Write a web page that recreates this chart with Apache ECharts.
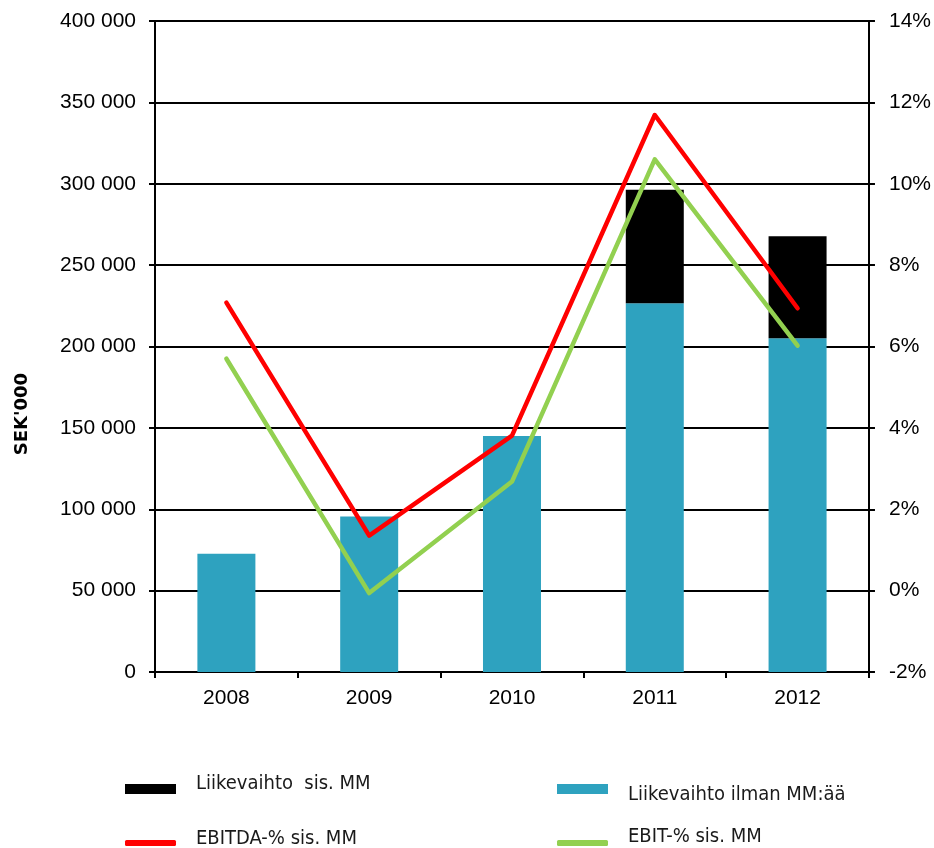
<!DOCTYPE html>
<html><head><meta charset="utf-8">
<script src="https://cdn.jsdelivr.net/npm/echarts@6/dist/echarts.min.js"></script>
<style>html,body{margin:0;padding:0;background:#fff}#c{width:934px;height:848px}</style>
</head><body><div id="c"></div>
<script>
const categories = ['2008', '2009', '2010', '2011', '2012'];
const revenueExMM = [72600, 95500, 145000, 226500, 205000];
const revenueMM = [null, null, null, 69800, 62800];
const ebitdaPct = [7.08, 1.35, 3.81, 11.69, 6.94];
const ebitPct = [5.70, -0.06, 2.68, 10.60, 6.02];
const names = ['Liikevaihto ilman MM:ää', 'Liikevaihto  sis. MM', 'EBITDA-% sis. MM', 'EBIT-% sis. MM'];

const BLUE = '#2EA2BF', RED = '#FF0000', GREEN = '#92D050';
const tickFont = { fontFamily: 'Liberation Sans, Arial, sans-serif', fontSize: 21, color: '#000' };
const legFont = { fontFamily: 'DejaVu Sans Condensed, DejaVu Sans, sans-serif', fontSize: 20, color: '#1a1a1a', lineHeight: 20 };

function leg(name, left, top, h, icon, pad) {
  return {
    data: [{ name: name, icon: icon }], left: left, top: top, itemWidth: 51, itemHeight: h,
    itemGap: 0, padding: 0, selectedMode: false,
    formatter: n => '{t|' + n + '}',
    textStyle: Object.assign({}, legFont, {
      rich: { t: Object.assign({}, legFont, { padding: pad }) }
    })
  };
}

const chart = echarts.init(document.getElementById('c'));
chart.setOption({
  animation: false,
  grid: { left: 155, right: 64, top: 21, bottom: 176, containLabel: false },
  legend: [
    leg(names[1], 125, 774, 10, 'rect', [0, 15, 10, 15]),
    leg(names[0], 557, 773, 10, 'rect', [12, 15, 0, 15]),
    leg(names[2], 125, 829, 6, 'roundRect', [0, 15, 8, 15]),
    leg(names[3], 557, 827, 6, 'roundRect', [0, 15, 12, 15])
  ],
  graphic: [{
    type: 'text', left: 13, top: 373, rotation: Math.PI / 2,
    style: { text: "SEK'000", font: 'bold 18px DejaVu Sans, sans-serif', fill: '#000' }
  }],
  xAxis: {
    type: 'category', data: categories,
    axisLine: { lineStyle: { color: '#000', width: 2 } },
    axisTick: { show: true, length: 6, lineStyle: { color: '#000', width: 2 } },
    axisLabel: Object.assign({ margin: 16 }, tickFont)
  },
  yAxis: [{
    type: 'value', min: 0, max: 400000, interval: 50000, position: 'left',
    axisLine: { show: true, lineStyle: { color: '#000', width: 2 } },
    axisTick: { show: true, length: 6, lineStyle: { color: '#000', width: 2 } },
    splitLine: { show: true, lineStyle: { color: '#000', width: 2 } },
    axisLabel: Object.assign({ margin: 19, formatter: v => String(v).replace(/\B(?=(\d{3})+(?!\d))/g, ' ') }, tickFont)
  }, {
    type: 'value', min: -2, max: 14, interval: 2, position: 'right',
    axisLine: { show: true, lineStyle: { color: '#000', width: 2 } },
    axisTick: { show: true, length: 6, lineStyle: { color: '#000', width: 2 } },
    splitLine: { show: false },
    axisLabel: Object.assign({ margin: 20, formatter: v => v + '%' }, tickFont)
  }],
  series: [
    { name: names[0], type: 'bar', stack: 'rev', data: revenueExMM, barWidth: 58, itemStyle: { color: BLUE } },
    { name: names[1], type: 'bar', stack: 'rev', data: revenueMM, barWidth: 58, itemStyle: { color: '#000' } },
    { name: names[2], type: 'line', yAxisIndex: 1, data: ebitdaPct, showSymbol: false, symbol: 'none',
      itemStyle: { color: RED }, lineStyle: { color: RED, width: 4.5, cap: 'round', join: 'round' }, z: 5 },
    { name: names[3], type: 'line', yAxisIndex: 1, data: ebitPct, showSymbol: false, symbol: 'none',
      itemStyle: { color: GREEN }, lineStyle: { color: GREEN, width: 4.5, cap: 'round', join: 'round' }, z: 4 }
  ]
});
</script></body></html>
